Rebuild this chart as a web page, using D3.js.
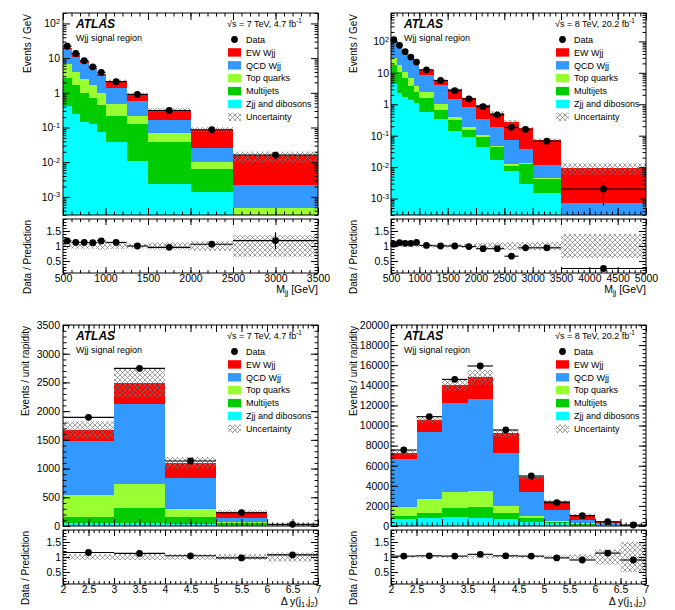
<!DOCTYPE html>
<html>
<head>
<meta charset="utf-8">
<script src="https://cdn.jsdelivr.net/npm/d3@7"></script>
<style>body{margin:0;background:#fff}</style>
</head>
<body>
<script>
// ATLAS Wjj signal region: Mjj and dy(j1,j2) distributions at 7 and 8 TeV, with data/prediction ratios.
const FONT = "'Liberation Sans', Arial, Helvetica, sans-serif";

// ---- Mjj, 7 TeV (events / GeV) ----
const mjjEdges7 = [500, 600, 700, 800, 900, 1000, 1250, 1500, 2000, 2500, 3500];
const mjjData7 = [22, 13.6, 8.4, 5.6, 3.9, 2.1, 0.9, 0.31, 0.086, 0.016];
const mjjDataErr7 = [0.01, 0.015, 0.02, 0.025, 0.03, 0.03, 0.04, 0.05, 0.1, 0.25];
const mjjZjj7 = [0.41, 0.237, 0.143, 0.122, 0.075, 0.038, 0.0107, 0.0023, 0.00136, 0];
const mjjMultijet7 = [2.18, 1.39, 0.82, 0.57, 0.375, 0.174, 0.117, 0.0357, 0.0052, 0];
const mjjTop7 = [4.0, 2.31, 1.47, 0.94, 0.55, 0.25, 0.092, 0.032, 0.0036, 0.00048];
const mjjQcd7 = [11.2, 6.96, 4.87, 3.07, 2.0, 0.93, 0.355, 0.10, 0.0158, 0.0017];
const mjjEw7 = [2.1, 1.9, 0.9, 0.55, 0.6, 0.78, 0.36, 0.16, 0.0615, 0.0127];
const mjjUnc7 = [0.09, 0.09, 0.09, 0.09, 0.13, 0.1, 0.08, 0.12, 0.16, 0.36];
const mjjRatio7 = [1.17, 1.12, 1.12, 1.11, 1.17, 1.12, 1.0, 0.955, 1.06, 1.18];
const mjjRatioErr7 = [0.02, 0.02, 0.02, 0.03, 0.03, 0.03, 0.03, 0.05, 0.1, 0.28];
const mjjTicks7 = [500, 1000, 1500, 2000, 2500, 3000, 3500];

// ---- Mjj, 8 TeV (events / GeV) ----
const mjjEdges8 = [500, 600, 700, 800, 900, 1000, 1250, 1500, 1750, 2000, 2250, 2500, 2750, 3000, 3500, 5000];
const mjjData8 = [113, 75, 47, 31.6, 21.9, 12.5, 5.7, 2.7, 1.48, 0.84, 0.46, 0.185, 0.158, 0.067, 0.002];
const mjjDataErr8 = [0.01, 0.01, 0.01, 0.015, 0.02, 0.02, 0.03, 0.03, 0.04, 0.05, 0.06, 0.08, 0.1, 0.1, 0.7];
const mjjZjj8 = [4.5, 2.25, 1.76, 1.38, 1.1, 0.58, 0.33, 0.137, 0.093, 0.0446, 0.0169, 0.0075, 0.003, 0.0015, 0];
const mjjMultijet8 = [13.5, 8.75, 5.04, 2.47, 1.27, 0.98, 0.33, 0.183, 0.058, 0.0444, 0.0255, 0.0036, 0.0095, 0.0028, 0];
const mjjTop8 = [11.4, 7.0, 4.2, 2.95, 1.48, 0.98, 0.36, 0.08, 0.043, 0.016, 0.0042, 0.0011, 0.0012, 0.0003, 0];
const mjjQcd8 = [63.6, 43, 29, 19.2, 14.15, 6.06, 3.08, 1.04, 0.646, 0.245, 0.1434, 0.0608, 0.0233, 0.007, 0.0007];
const mjjEw8 = [15, 8, 4.6, 3.4, 2.3, 3.8, 1.8, 1.56, 0.72, 0.6, 0.35, 0.207, 0.133, 0.0594, 0.0088];
const mjjUnc8 = [0.04, 0.04, 0.04, 0.04, 0.04, 0.05, 0.05, 0.06, 0.07, 0.1, 0.12, 0.13, 0.13, 0.14, 0.4];
const mjjRatio8 = [1.06, 1.11, 1.09, 1.09, 1.12, 1.02, 1.0, 1.0, 0.98, 0.91, 0.91, 0.66, 0.94, 0.94, 0.25];
const mjjRatioErr8 = [0.01, 0.01, 0.01, 0.01, 0.02, 0.02, 0.02, 0.03, 0.03, 0.04, 0.05, 0.06, 0.1, 0.1, 0.03];
const mjjTicks8 = [500, 1000, 1500, 2000, 2500, 3000, 3500, 4000, 4500, 5000];

// ---- dy(j1,j2), 7 TeV (events / unit rapidity) ----
const dyEdges7 = [2, 3, 4, 5, 6, 7];
const dyData7 = [1892, 2745, 1132, 232, 29];
const dyDataErr7 = [0.02, 0.02, 0.03, 0.06, 0.2];
const dyZjj7 = [46, 46, 40, 20, 3];
const dyMultijet7 = [116, 262, 111, 35, 4];
const dyTop7 = [378, 423, 139, 15, 3];
const dyQcd7 = [940, 1393, 551, 75, 10];
const dyEw7 = [192, 360, 262, 105, 8];
const dyUnc7 = [0.09, 0.1, 0.09, 0.09, 0.15];
const dyRatio7 = [1.15, 1.12, 1.04, 0.97, 1.07];
const dyRatioErr7 = [0.02, 0.02, 0.02, 0.03, 0.08];
const dyCountTicks7 = [0, 500, 1000, 1500, 2000, 2500, 3000, 3500];

// ---- dy(j1,j2), 8 TeV (events / unit rapidity) ----
const dyEdges8 = [2, 2.5, 3, 3.5, 4, 4.5, 5, 5.5, 6, 6.5, 7];
const dyData8 = [7560, 10880, 14590, 15920, 9550, 4975, 2320, 1030, 430, 100];
const dyDataErr8 = [0.01, 0.01, 0.01, 0.01, 0.01, 0.015, 0.02, 0.03, 0.08, 0.1];
const dyZjj8 = [663, 763, 862, 829, 663, 431, 265, 130, 66, 15];
const dyMultijet8 = [332, 564, 896, 1095, 597, 332, 166, 100, 34, 10];
const dyTop8 = [929, 1360, 1658, 1559, 730, 265, 66, 35, 10, 5];
const dyQcd8 = [4743, 6633, 8856, 9121, 5307, 2388, 1095, 332, 155, 35];
const dyEw8 = [630, 1227, 1758, 2189, 1923, 1426, 858, 543, 120, 45];
const dyUnc8 = [0.03, 0.03, 0.04, 0.05, 0.04, 0.04, 0.05, 0.08, 0.25, 0.5];
const dyRatio8 = [1.03, 1.04, 1.03, 1.09, 1.04, 1.03, 0.97, 0.9, 1.13, 0.9];
const dyRatioErr8 = [0.01, 0.01, 0.01, 0.01, 0.01, 0.02, 0.02, 0.03, 0.1, 0.05];
const dyCountTicks8 = [0, 2000, 4000, 6000, 8000, 10000, 12000, 14000, 16000, 18000, 20000];

const dyTicks = [2, 2.5, 3, 3.5, 4, 4.5, 5, 5.5, 6, 6.5, 7];
const logTicks = [1e-3, 1e-2, 1e-1, 1, 10, 100];
const ratioTicks = [0.5, 1, 1.5];
const legendLabels = ['Data', 'EW Wjj', 'QCD Wjj', 'Top quarks', 'Multijets', 'Zjj and dibosons', 'Uncertainty'];

// Stack order bottom -> top, and the fill shared by stack and legend.
const keys = ['zjj', 'multijet', 'top', 'qcd', 'ew'];
const colors = {ew: '#ff0000', qcd: '#3399ff', top: '#99ff33', multijet: '#00cc00', zjj: '#00ffff'};
const legendKeys = [null, 'ew', 'qcd', 'top', 'multijet', 'zjj', 'unc'];

const svg = d3.select('body').append('svg')
  .attr('width', 675).attr('height', 610)
  .attr('font-family', FONT);

const defs = svg.append('defs');
const hatch = defs.append('pattern').attr('id', 'hatch')
  .attr('patternUnits', 'userSpaceOnUse').attr('width', 5).attr('height', 5);
hatch.append('path').attr('d', 'M-1,-1L6,6M6,-1L-1,6')
  .attr('stroke', '#777').attr('stroke-width', 0.7).attr('fill', 'none');

// Layout of the four panels (main pad + ratio pad each).
const panels = [
  {left: 63, top: 13, mainH: 202, ratioTop: 219, log: true, yDomain: [3e-4, 200], yTicks: logTicks,
   edges: mjjEdges7, data: mjjData7, dataErr: mjjDataErr7, unc: mjjUnc7, ratio: mjjRatio7, ratioErr: mjjRatioErr7,
   comps: {zjj: mjjZjj7, multijet: mjjMultijet7, top: mjjTop7, qcd: mjjQcd7, ew: mjjEw7},
   xTicks: mjjTicks7, xMinor: 100, yTitle: 'Events / GeV', sqrt: '√s = 7 TeV, 4.7 fb', xTitle: 'mjj',
   titleX: 31, labelPad: 3, xTitleDy: 19.5},
  {left: 391, top: 13, mainH: 202, ratioTop: 219, log: true, yDomain: [3e-4, 800], yTicks: logTicks,
   edges: mjjEdges8, data: mjjData8, dataErr: mjjDataErr8, unc: mjjUnc8, ratio: mjjRatio8, ratioErr: mjjRatioErr8,
   comps: {zjj: mjjZjj8, multijet: mjjMultijet8, top: mjjTop8, qcd: mjjQcd8, ew: mjjEw8},
   xTicks: mjjTicks8, xMinor: 100, yTitle: 'Events / GeV', sqrt: '√s = 8 TeV, 20.2 fb', xTitle: 'mjj',
   titleX: 357, labelPad: 2, xTitleDy: 19.5},
  {left: 63, top: 325, mainH: 201, ratioTop: 530, log: false, yDomain: [0, 3500], yTicks: dyCountTicks7, yMinor: 100,
   edges: dyEdges7, data: dyData7, dataErr: dyDataErr7, unc: dyUnc7, ratio: dyRatio7, ratioErr: dyRatioErr7,
   comps: {zjj: dyZjj7, multijet: dyMultijet7, top: dyTop7, qcd: dyQcd7, ew: dyEw7},
   xTicks: dyTicks, xMinor: 0.1, yTitle: 'Events / unit rapidity', sqrt: '√s = 7 TeV, 4.7 fb', xTitle: 'dy',
   titleX: 29, labelPad: 3, xTitleDy: 20.5},
  {left: 391, top: 325, mainH: 201, ratioTop: 530, log: false, yDomain: [0, 20000], yTicks: dyCountTicks8, yMinor: 400,
   edges: dyEdges8, data: dyData8, dataErr: dyDataErr8, unc: dyUnc8, ratio: dyRatio8, ratioErr: dyRatioErr8,
   comps: {zjj: dyZjj8, multijet: dyMultijet8, top: dyTop8, qcd: dyQcd8, ew: dyEw8},
   xTicks: dyTicks, xMinor: 0.1, yTitle: 'Events / unit rapidity', sqrt: '√s = 8 TeV, 20.2 fb', xTitle: 'dy',
   titleX: 357, labelPad: 2, xTitleDy: 20.5}
];

const PW = 255, RH = 54;

// Text with sub/superscript pieces: parts = [[text, 'sub'|'sup'|null], ...]
function richText(sel, parts, fs) {
  let shift = 0;
  parts.forEach(([t, kind]) => {
    const target = kind === 'sup' ? -0.42 * fs : kind === 'sub' ? 0.28 * fs : 0;
    sel.append('tspan').attr('dy', target - shift).attr('font-size', kind ? fs * 0.7 : fs).text(t);
    shift = target;
  });
}

// ROOT-style ticks: pointing into the frame, labels outside.
function axis(gen, scale, vals, size, tx, ty, fmt, pad, fs) {
  const g = svg.append('g').attr('transform', `translate(${tx},${ty})`)
    .call(d3[gen](scale).tickValues(vals).tickSize(size).tickPadding(pad || 0)
      .tickFormat(fmt || (() => '')));
  g.select('.domain').remove();
  g.attr('font-family', FONT).attr('font-size', fs || 10);
  g.selectAll('.tick line').attr('stroke', '#000');
  return g;
}

function logMinor(domain) {
  const out = [];
  for (let k = -5; k <= 4; k++) {
    for (let m = 2; m <= 9; m++) {
      const v = m * Math.pow(10, k);
      if (v >= domain[0] && v <= domain[1]) out.push(v);
    }
  }
  return out;
}

function drawPanel(p, idx) {
  const nb = p.edges.length - 1;
  const x = d3.scaleLinear().domain([p.edges[0], p.edges[nb]]).range([p.left, p.left + PW]);
  const yBot = p.top + p.mainH;
  const y = (p.log ? d3.scaleLog() : d3.scaleLinear()).domain(p.yDomain).range([yBot, p.top]);
  const yv = v => y(Math.min(Math.max(v, p.yDomain[0]), p.yDomain[1]));
  const rBot = p.ratioTop + RH;
  const r = d3.scaleLinear().domain([0.1, 1.9]).range([rBot, p.ratioTop]);
  const rv = v => r(Math.min(Math.max(v, 0.1), 1.9));
  const bx = i => x(p.edges[i]);
  const bw = i => x(p.edges[i + 1]) - x(p.edges[i]);
  const cx = i => x((p.edges[i] + p.edges[i + 1]) / 2);

  defs.append('clipPath').attr('id', 'clipM' + idx).append('rect')
    .attr('x', p.left).attr('y', p.top).attr('width', PW).attr('height', p.mainH);
  defs.append('clipPath').attr('id', 'clipR' + idx).append('rect')
    .attr('x', p.left).attr('y', p.ratioTop).attr('width', PW).attr('height', RH);

  // Stacked backgrounds + signal.
  const rows = d3.range(nb).map(i => {
    const row = {};
    keys.forEach(k => { row[k] = p.comps[k][i]; });
    return row;
  });
  const stacked = d3.stack().keys(keys)(rows);
  const main = svg.append('g').attr('clip-path', `url(#clipM${idx})`);
  main.selectAll('g.layer').data(stacked).join('g').attr('class', 'layer')
    .attr('fill', s => colors[s.key])
    .selectAll('rect').data(s => s).join('rect')
    .attr('x', (d, i) => bx(i)).attr('width', (d, i) => bw(i))
    .attr('y', d => yv(d[1]))
    .attr('height', d => Math.max(0, yv(d[0]) - yv(d[1])))
    .attr('shape-rendering', 'crispEdges');

  // Uncertainty band around the total prediction.
  const totals = rows.map(row => d3.sum(keys, k => row[k]));
  main.selectAll('rect.unc').data(totals).join('rect').attr('class', 'unc')
    .attr('x', (d, i) => bx(i)).attr('width', (d, i) => bw(i))
    .attr('y', (d, i) => yv(d * (1 + p.unc[i])))
    .attr('height', (d, i) => yv(d * (1 - p.unc[i])) - yv(d * (1 + p.unc[i])))
    .attr('fill', 'url(#hatch)');

  // Data points with bin-width bars and stat errors.
  const pts = svg.append('g');
  pts.selectAll('line.xe').data(p.data).join('line').attr('class', 'xe')
    .attr('x1', (d, i) => bx(i)).attr('x2', (d, i) => bx(i) + bw(i))
    .attr('y1', d => yv(d)).attr('y2', d => yv(d))
    .attr('stroke', '#000').attr('stroke-width', 1.1);
  pts.selectAll('line.ye').data(p.data).join('line').attr('class', 'ye')
    .attr('x1', (d, i) => cx(i)).attr('x2', (d, i) => cx(i))
    .attr('y1', (d, i) => yv(d * (1 - p.dataErr[i]))).attr('y2', (d, i) => yv(d * (1 + p.dataErr[i])))
    .attr('stroke', '#000').attr('stroke-width', 1.1);
  pts.selectAll('circle').data(p.data).join('circle')
    .attr('cx', (d, i) => cx(i)).attr('cy', d => yv(d)).attr('r', 3.4).attr('fill', '#000');

  // Ratio pad.
  const rat = svg.append('g').attr('clip-path', `url(#clipR${idx})`);
  rat.selectAll('rect').data(p.unc).join('rect')
    .attr('x', (d, i) => bx(i)).attr('width', (d, i) => bw(i))
    .attr('y', d => rv(1 + d)).attr('height', d => rv(1 - d) - rv(1 + d))
    .attr('fill', 'url(#hatch)');
  rat.selectAll('line.xe').data(p.ratio).join('line').attr('class', 'xe')
    .attr('x1', (d, i) => bx(i)).attr('x2', (d, i) => bx(i) + bw(i))
    .attr('y1', d => rv(d)).attr('y2', d => rv(d))
    .attr('stroke', '#000').attr('stroke-width', 1.1);
  rat.selectAll('line.ye').data(p.ratio).join('line').attr('class', 'ye')
    .attr('x1', (d, i) => cx(i)).attr('x2', (d, i) => cx(i))
    .attr('y1', (d, i) => rv(d - p.ratioErr[i])).attr('y2', (d, i) => rv(d + p.ratioErr[i]))
    .attr('stroke', '#000').attr('stroke-width', 1.1);
  svg.append('g').selectAll('circle').data(p.ratio).join('circle')
    .attr('cx', (d, i) => cx(i)).attr('cy', d => rv(d)).attr('r', 3.4).attr('fill', '#000');

  // Frames.
  [[p.top, p.mainH], [p.ratioTop, RH]].forEach(([t, h]) => {
    svg.append('rect').attr('x', p.left).attr('y', t).attr('width', PW).attr('height', h)
      .attr('fill', 'none').attr('stroke', '#000').attr('stroke-width', 1);
  });

  // Main pad axes.
  const yMinor = p.log ? logMinor(p.yDomain) : d3.range(p.yDomain[0], p.yDomain[1] + 1e-9, p.yMinor);
  const right = p.left + PW;
  const yl = axis('axisLeft', y, p.yTicks, -7, p.left, 0, d => d, p.labelPad, 10.5);
  if (p.log) {
    yl.selectAll('.tick text').each(function(d) {
      const t = d3.select(this).text(null);
      const k = Math.round(Math.log10(d));
      if (k === 0) t.text('1');
      else if (k === 1) t.text('10');
      else {
        t.append('tspan').text('10');
        t.append('tspan').attr('dy', '-0.45em').attr('font-size', '0.7em').text(k);
      }
    });
  }
  axis('axisLeft', y, yMinor, -3.5, p.left, 0);
  axis('axisRight', y, p.yTicks, -7, right, 0);
  axis('axisRight', y, yMinor, -3.5, right, 0);
  const xMinor = d3.range(p.edges[0], p.edges[nb] + 1e-9, p.xMinor);
  axis('axisBottom', x, p.xTicks, -7, 0, yBot);
  axis('axisBottom', x, xMinor, -3.5, 0, yBot);
  axis('axisTop', x, p.xTicks, -7, 0, p.top);
  axis('axisTop', x, xMinor, -3.5, 0, p.top);

  // Ratio pad axes.
  const rMinor = d3.range(0.1, 1.9001, 0.1);
  axis('axisLeft', r, ratioTicks, -7, p.left, 0, d => String(d), 2, 10.5);
  axis('axisLeft', r, rMinor, -3.5, p.left, 0);
  axis('axisRight', r, ratioTicks, -7, right, 0);
  axis('axisRight', r, rMinor, -3.5, right, 0);
  axis('axisBottom', x, p.xTicks, -6, 0, rBot, d => String(d), 1.5, 10.5);
  axis('axisBottom', x, xMinor, -3, 0, rBot);
  axis('axisTop', x, p.xTicks, -6, 0, p.ratioTop);
  axis('axisTop', x, xMinor, -3, 0, p.ratioTop);

  // Titles.
  svg.append('text').attr('transform', `translate(${p.titleX},${p.top + 1}) rotate(-90)`)
    .attr('text-anchor', 'end').attr('font-size', 10).text(p.yTitle);
  svg.append('text').attr('transform', `translate(${p.titleX},${p.ratioTop + 1}) rotate(-90)`)
    .attr('text-anchor', 'end').attr('font-size', 10).text('Data / Prediction');
  const xt = svg.append('text').attr('x', right).attr('y', rBot + p.xTitleDy)
    .attr('text-anchor', 'end');
  if (p.xTitle === 'mjj') richText(xt, [['M', null], ['jj', 'sub'], [' [GeV]', null]], 10.5);
  else richText(xt, [['Δ y(j', null], ['1', 'sub'], [',j', null], ['2', 'sub'], [')', null]], 10.5);

  // ATLAS label, region and energy/luminosity.
  svg.append('text').attr('x', p.left + 13).attr('y', p.top + 15)
    .attr('font-size', 12).attr('font-weight', 'bold').attr('font-style', 'italic').text('ATLAS');
  svg.append('text').attr('x', p.left + 13).attr('y', p.top + 27.5).attr('font-size', 9).text('Wjj signal region');
  richText(svg.append('text').attr('x', p.left + 164).attr('y', p.top + 14), [[p.sqrt, null], ['-1', 'sup']], 9);

  // Legend.
  const leg = svg.append('g');
  legendLabels.forEach((lab, i) => {
    const ly = p.top + 26.5 + 12.9 * i;
    const key = legendKeys[i];
    if (key === null) {
      leg.append('circle').attr('cx', p.left + 171.5).attr('cy', ly).attr('r', 3.4).attr('fill', '#000');
    } else {
      leg.append('rect').attr('x', p.left + 165).attr('y', ly - 4.2).attr('width', 13).attr('height', 8.4)
        .attr('fill', key === 'unc' ? 'url(#hatch)' : colors[key]);
    }
    leg.append('text').attr('x', p.left + 183).attr('y', ly + 3.2).attr('font-size', 9).text(lab);
  });
}

panels.forEach(drawPanel);
</script>
</body>
</html>
